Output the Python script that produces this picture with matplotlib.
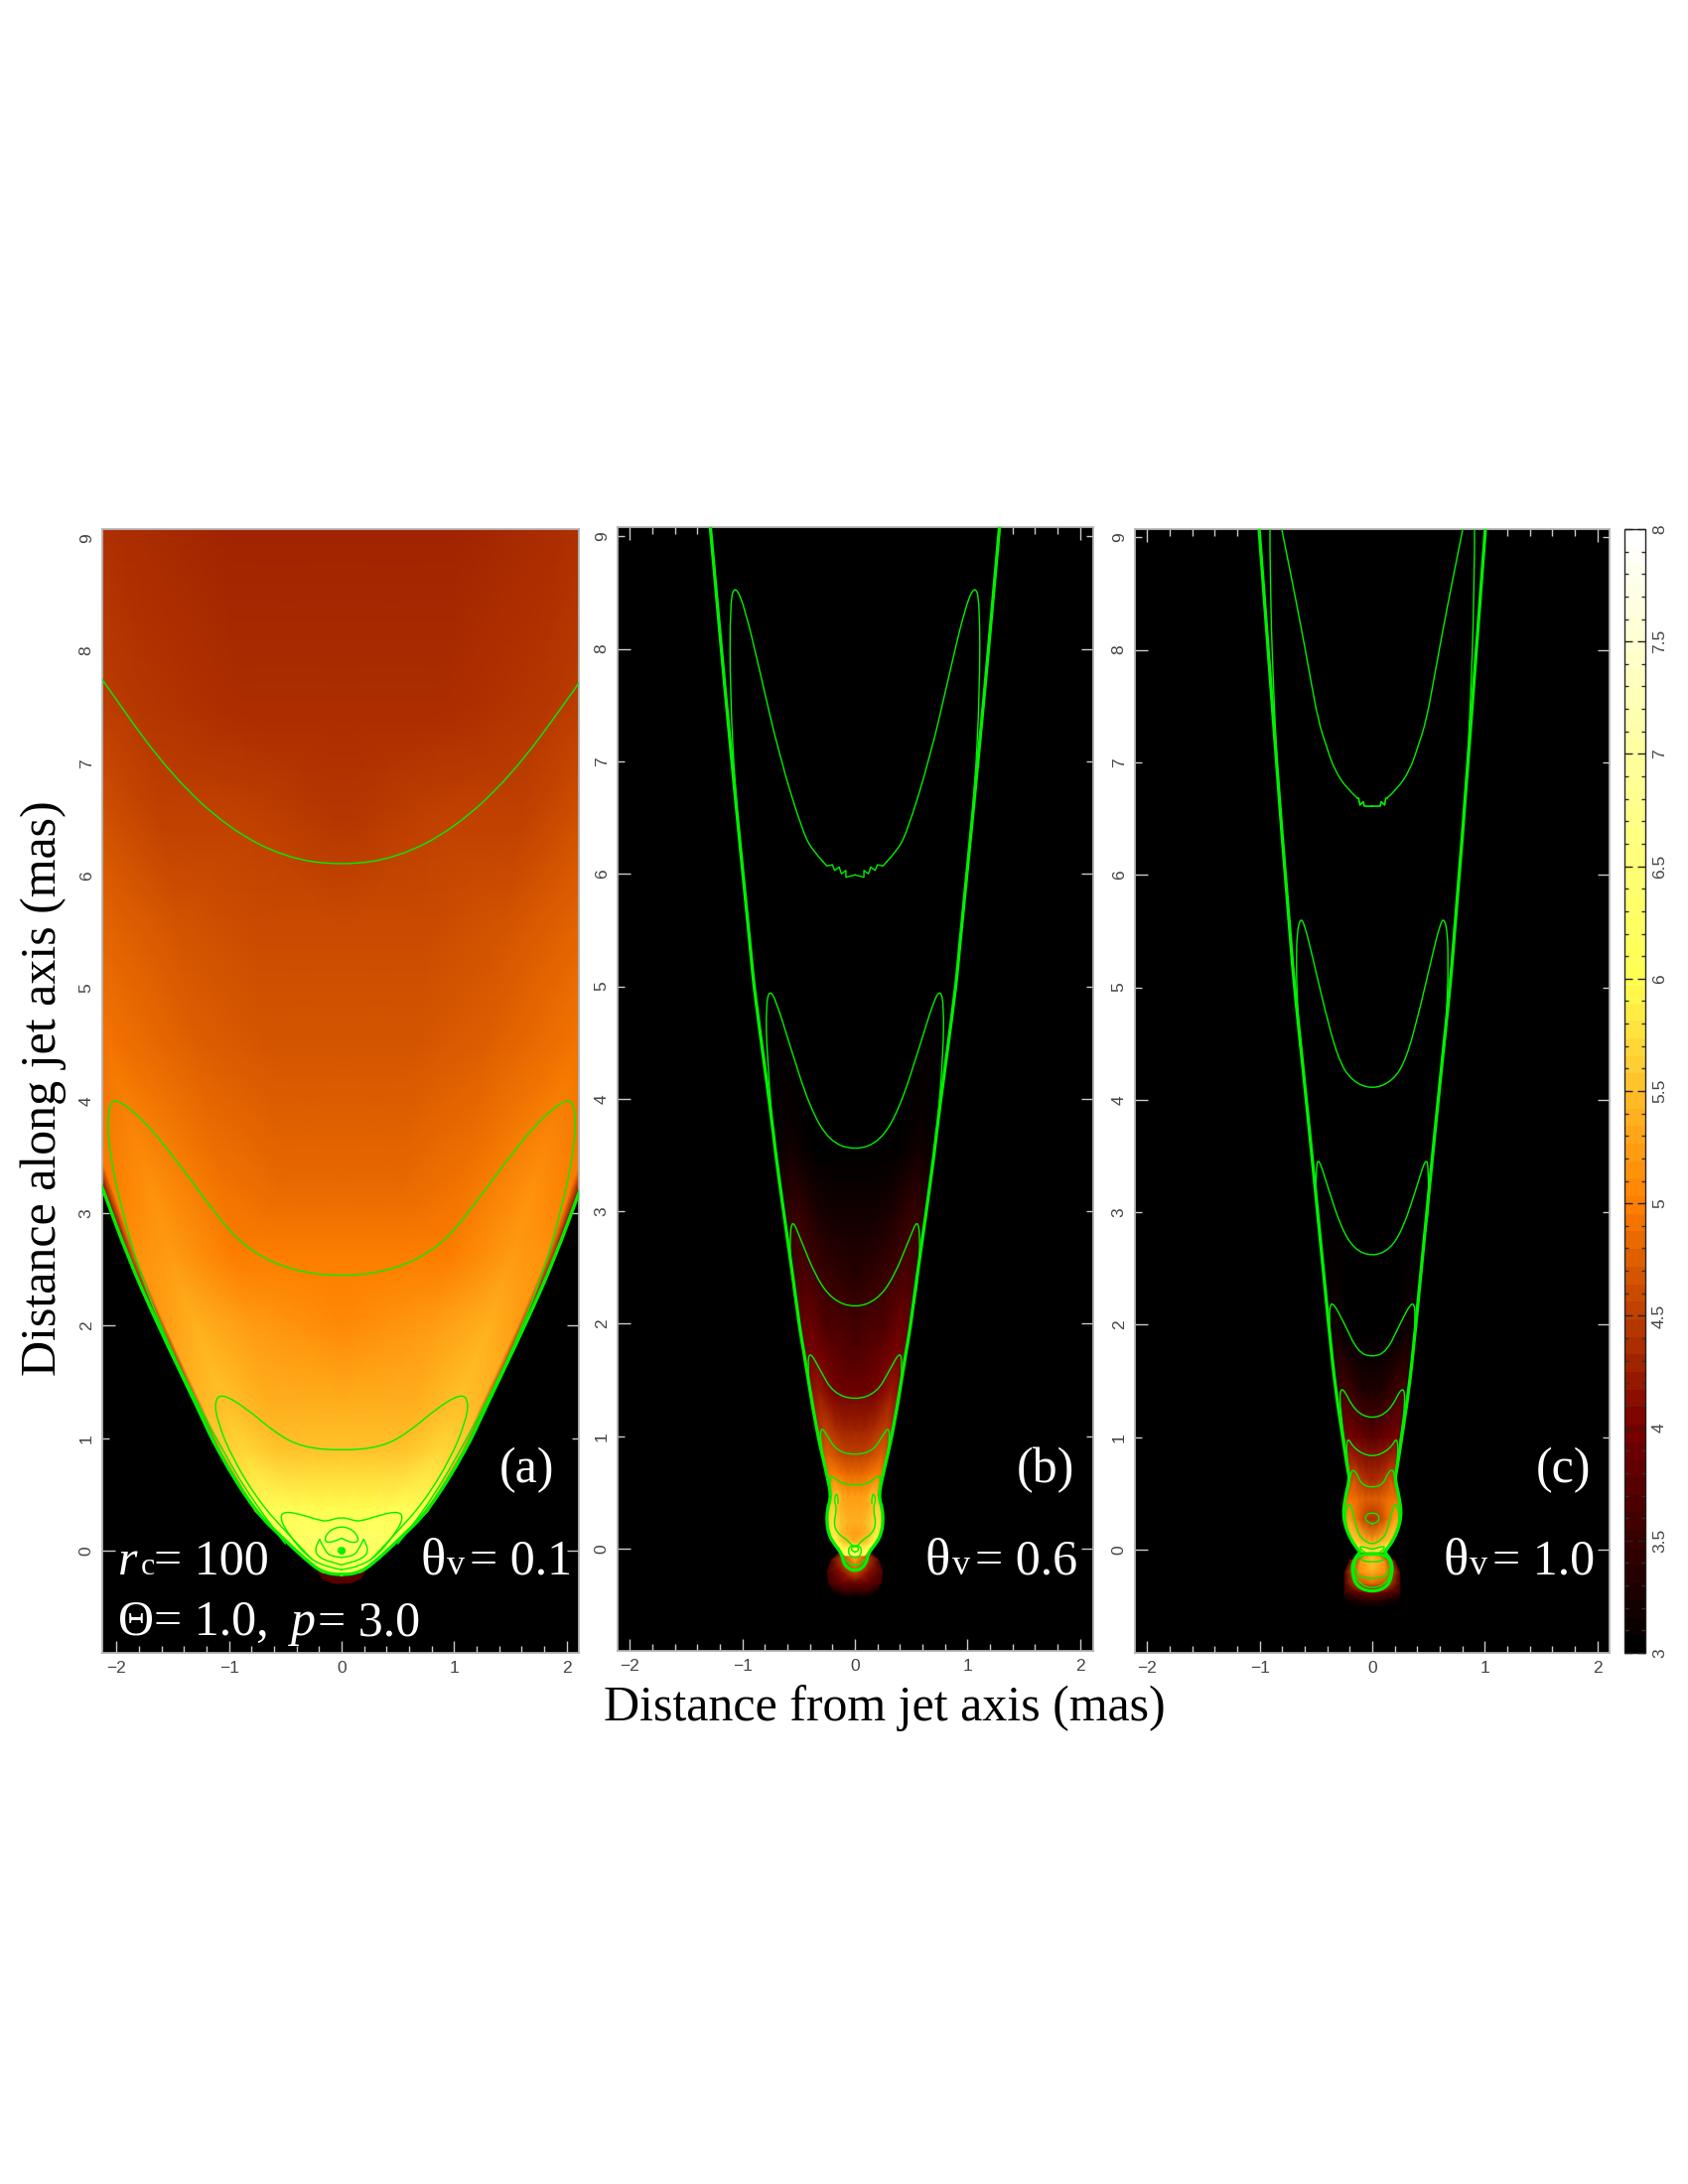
"""Three-panel jet intensity maps with contour lines and a shared colour bar."""

import numpy as np
import matplotlib
matplotlib.use("Agg")
import matplotlib.pyplot as plt
from matplotlib.cm import ScalarMappable
from matplotlib.colors import LinearSegmentedColormap, Normalize
from matplotlib.path import Path
from matplotlib.patches import PathPatch
from matplotlib.ticker import MultipleLocator, FormatStrFormatter, NullFormatter

W, H = 1700, 2200
GREEN = "#00f000"

# colour scale
CMAP_LEVELS = [3.0, 3.5, 4.0, 4.5, 5.0, 5.5, 6.0, 7.0, 8.0]
CMAP_COLORS = ["#000000", "#3c0000", "#7c0000", "#bf4000", "#ff8000",
               "#ffbf28", "#ffff50", "#ffff9c", "#ffffff"]

# ── panel (a) ────────────────────────────────────────────────────────────────
A_Y     = [-0.22, -0.19, -0.07, 0.09, 0.35, 0.88, 1.25, 2.02, 2.61, 3.21, 4.5, 5.5, 6.5, 7.5, 9.2]
A_WIDTH = [0.0, 0.18, 0.33, 0.50, 0.77, 1.10, 1.27, 1.64, 1.90, 2.12, 2.6, 2.9, 3.2, 3.55, 3.9]
A_AXIS  = [6.0, 6.1, 6.2, 6.35, 6.0, 5.5, 5.35, 5.1, 4.97, 4.85, 4.68, 4.57, 4.47, 4.38, 4.3]
A_QTR   = [6.0, 6.1, 6.2, 6.33, 6.01, 5.52, 5.37, 5.13, 4.99, 4.87, 4.7, 4.59, 4.49, 4.4, 4.32]
A_MID   = [6.0, 6.1, 6.2, 6.3, 6.05, 5.56, 5.42, 5.2, 5.03, 4.95, 4.78, 4.66, 4.55, 4.46, 4.38]
A_LIMB  = [6.0, 6.1, 6.2, 6.2, 6.05, 5.7, 5.55, 5.35, 5.25, 5.12, 4.95, 4.83, 4.72, 4.62, 4.5]

A_BLOB_Y     = [-0.29, -0.25, -0.15, -0.05]
A_BLOB_WIDTH = [0.08, 0.17, 0.235, 0.24]
A_BLOB_VALS  = [[3.75, 3.75, 3.75, 3.75], [3.75, 3.75, 3.75, 3.75], [3.7, 3.7, 3.7, 3.7]]

A_CONTOURS = [
    ([0, 0.5, 1.0, 1.5, 2.0, 2.3], [6.09, 6.16, 6.42, 6.88, 7.55, 8.0]),
    ([0, 0.49, 0.88, 1.14, 1.46, 1.76, 2.01, 2.08, 2.07, 1.96, 1.79, 1.58, 1.38, 1.1, 0.8, 0.5],
     [2.43, 2.50, 2.71, 3.02, 3.46, 3.83, 4.03, 3.93, 3.58, 3.05, 2.46, 1.93, 1.50, 0.97, 0.45, 0.06]),
    ([0, 0.35, 0.58, 0.85, 1.07, 1.13, 1.10, 0.97, 0.73, 0.47, 0.26],
     [0.888, 0.92, 1.04, 1.27, 1.40, 1.32, 1.14, 0.82, 0.43, 0.14, -0.08]),
    ([0, 0.10, 0.17, 0.35, 0.51, 0.55, 0.47, 0.30, 0.15, 0],
     [0.30, 0.27, 0.26, 0.32, 0.35, 0.29, 0.14, -0.06, -0.14, -0.17]),
    ([0, 0.11, 0.16, 0.10, 0], [0.22, 0.18, 0.09, 0.065, 0.11]),
    ([0.195, 0.245, 0.2, 0], [0.10, 0.02, -0.07, -0.127]),
    ([0.195, 0.14, 0.08, 0], [0.10, -0.02, -0.05, -0.06]),
    ([0, 0.03, 0.03, 0], [0.03, 0.02, -0.02, -0.03]),
]
A_DOT = [0.0, 0.0]
A_BOUNDARY = (A_WIDTH, A_Y)

# ── panel (b) ────────────────────────────────────────────────────────────────
B_Y     = [-0.06, 0.0, 0.06, 0.14, 0.24, 0.35, 0.47, 0.66, 0.83, 1.06, 1.41, 1.755, 1.95, 2.41, 2.93, 3.55, 3.83, 4.97, 5.25, 7.2, 9.08]
B_WIDTH = [0.09, 0.15, 0.20, 0.235, 0.25, 0.245, 0.21, 0.25, 0.29, 0.34, 0.40, 0.455, 0.49, 0.55, 0.625, 0.71, 0.74, 0.895, 0.92, 1.115, 1.285]
B_AXIS  = [6.3, 6.0, 5.4, 5.2, 5.35, 5.3, 5.2, 4.85, 4.5, 4.25, 3.9, 3.7, 3.6, 3.38, 3.17, 3.0, 2.9, 2.6, 2.5, 2.0, 1.7]
B_QTR   = [6.3, 6.0, 5.45, 5.3, 5.38, 5.32, 5.22, 4.87, 4.53, 4.28, 3.93, 3.73, 3.63, 3.41, 3.2, 3.02, 2.92, 2.64, 2.55, 2.05, 1.74]
B_MID   = [6.25, 5.9, 5.55, 5.45, 5.5, 5.4, 5.3, 4.9, 4.6, 4.33, 4.0, 3.8, 3.7, 3.48, 3.27, 3.06, 2.97, 2.72, 2.63, 2.15, 1.82]
B_LIMB  = [6.2, 6.0, 5.9, 5.85, 5.8, 5.7, 5.5, 5.0, 4.75, 4.5, 4.2, 4.0, 3.9, 3.7, 3.5, 3.2, 3.13, 3.0, 2.95, 2.5, 2.1]

B_BLOB_Y     = [-0.43, -0.38, -0.30, -0.2, -0.1, -0.02]
B_BLOB_WIDTH = [0.12, 0.19, 0.235, 0.245, 0.21, 0.12]
B_BLOB_VALS  = [[3.0, 3.4, 3.9, 4.7, 5.3, 5.5],
                [3.1, 3.5, 3.9, 4.15, 4.5, 5.0],
                [3.0, 3.2, 3.6, 3.6, 3.7, 3.8]]

B_BOUNDARY = (B_WIDTH[1:], B_Y[1:])
B_THICK = [
    ([0, 0.06, 0.106, 0.11, 0.15], [-0.198, -0.177, -0.118, -0.06, 0.0]),
]
B_CONTOURS = [
    ([0.285, 0.37, 0.46, 0.67, 0.845, 0.977, 1.065, 1.11, 1.11, 1.065, 0.99],
     [6.11, 6.2, 6.36, 7.04, 7.80, 8.36, 8.57, 8.42, 7.63, 6.74, 5.95]),
    ([0, 0.226, 0.40, 0.58, 0.70, 0.76, 0.79, 0.785, 0.74],
     [3.54, 3.62, 3.92, 4.48, 4.87, 4.97, 4.83, 4.42, 3.85]),
    ([0, 0.197, 0.344, 0.49, 0.556, 0.58, 0.565, 0.52],
     [2.14, 2.21, 2.41, 2.77, 2.93, 2.77, 2.41, 2.15]),
    ([0, 0.195, 0.31, 0.40, 0.42, 0.40, 0.37],
     [1.32, 1.386, 1.59, 1.755, 1.65, 1.36, 1.2]),
    ([0, 0.165, 0.254, 0.30, 0.31, 0.27], [0.83, 0.87, 1.02, 1.08, 0.97, 0.74]),
    ([0, 0.11, 0.17, 0.23, 0.22], [0.566, 0.575, 0.62, 0.66, 0.50]),
    ([0.15, 0.15, 0.17, 0.185, 0.16, 0.19, 0.15, 0.07, 0.03, 0],
     [0.40, 0.47, 0.49, 0.42, 0.36, 0.22, 0.13, 0.08, 0.03, 0.02]),
    ([0, 0.05, 0.06, 0.04, 0], [0.03, 0.02, -0.03, -0.07, -0.08]),
    ([0, 0.03, 0.03, 0], [0.02, 0.015, -0.02, -0.03]),
    ([0, 0.05, 0.08], [-0.15, -0.14, -0.1]),
]
B_ZIGZAG = ([0, 0.08, 0.08, 0.12, 0.14, 0.18, 0.20, 0.25, 0.285],
            [5.99, 5.97, 6.03, 6.0, 6.06, 6.03, 6.08, 6.07, 6.11])

# ── panel (c) ────────────────────────────────────────────────────────────────
C_Y     = [-0.02, 0.07, 0.27, 0.45, 0.63, 0.69, 1.0, 1.42, 1.92, 2.95, 4.43, 5.31, 9.08]
C_WIDTH = [0.11, 0.186, 0.26, 0.245, 0.20, 0.215, 0.262, 0.326, 0.38, 0.48, 0.63, 0.724, 1.006]
C_AXIS  = [5.8, 5.3, 4.4, 4.75, 4.3, 4.25, 3.75, 3.25, 2.9, 2.4, 1.95, 1.8, 1.4]
C_QTR   = [5.82, 5.35, 4.5, 4.78, 4.33, 4.28, 3.79, 3.29, 2.93, 2.41, 1.99, 1.83, 1.41]
C_MID   = [5.85, 5.45, 4.85, 4.85, 4.45, 4.4, 3.9, 3.4, 3.0, 2.45, 2.1, 1.9, 1.45]
C_LIMB  = [5.9, 5.6, 5.3, 4.95, 4.65, 4.55, 4.0, 3.55, 3.2, 2.6, 2.3, 2.0, 1.5]

C_BLOB_Y     = [-0.51, -0.45, -0.38, -0.3, -0.2, -0.1, -0.02]
C_BLOB_WIDTH = [0.2, 0.235, 0.245, 0.245, 0.245, 0.2, 0.08]
C_BLOB_VALS  = [[3.0, 3.4, 4.0, 4.8, 5.35, 5.5, 5.4],
                [3.0, 3.3, 3.8, 4.6, 5.1, 5.2, 5.0],
                [3.0, 3.1, 3.5, 3.7, 3.7, 3.8, 4.0]]

C_BOUNDARY = (C_WIDTH, C_Y)
C_THICK = [
    ([0, 0.14, 0.18, 0.17, 0.11], [-0.38, -0.33, -0.2, -0.095, -0.02]),
    ([0, 0.12, 0.165, 0.17], [-0.03, -0.05, -0.1, -0.2]),
]
C_CONTOURS = [
    ([0.13, 0.22, 0.335, 0.41, 0.48, 0.55, 0.63, 0.72, 0.806],
     [6.68, 6.76, 6.93, 7.15, 7.37, 7.75, 8.19, 8.65, 9.08]),
    ([0.91, 0.91, 0.865, 0.835, 0.80], [9.2, 8.52, 7.34, 6.81, 6.3]),
    ([0, 0.188, 0.306, 0.424, 0.54, 0.60, 0.638, 0.67, 0.674, 0.67, 0.645],
     [4.09, 4.17, 4.37, 4.81, 5.31, 5.55, 5.62, 5.48, 5.2, 4.95, 4.48]),
    ([0, 0.16, 0.277, 0.394, 0.477, 0.50, 0.50, 0.48],
     [2.606, 2.67, 2.865, 3.22, 3.49, 3.39, 3.01, 2.9]),
    ([0, 0.13, 0.247, 0.365, 0.385, 0.365, 0.335],
     [1.71, 1.76, 2.01, 2.23, 2.07, 1.77, 1.51]),
    ([0, 0.156, 0.274, 0.295, 0.245], [1.16, 1.23, 1.47, 1.31, 0.95]),
    ([0, 0.156, 0.224, 0.23, 0.20], [0.817, 0.89, 1.01, 0.83, 0.63]),
    ([0, 0.097, 0.14, 0.186, 0.20], [0.55, 0.58, 0.687, 0.717, 0.63]),
    ([0, 0.097, 0.14, 0.186, 0.215, 0.245, 0.22], [0.04, 0.097, 0.186, 0.39, 0.41, 0.30, 0.15]),
    ([0, 0.06, 0.06, 0], [0.33, 0.31, 0.25, 0.23]),
    ([0, 0.05, 0.12, 0.08, 0.03, 0], [0.0, 0.02, 0.03, -0.02, -0.04, -0.05]),
    ([0, 0.097, 0.097], [-0.11, -0.1, -0.08]),
    ([0, 0.12, 0.14, 0.14], [-0.26, -0.24, -0.2, -0.17]),
    ([0, 0.127, 0.165], [-0.35, -0.3, -0.2]),
]
C_ZIGZAG = ([0, 0.07, 0.08, 0.11, 0.12, 0.13],
            [6.61, 6.61, 6.65, 6.62, 6.68, 6.68])

# tick and colour bar labels
CBAR_TICKS = [3, 3.5, 4, 4.5, 5, 5.5, 6, 6.5, 7, 7.5, 8]

LIMB_FRACS = [0, 0.25, 0.5, 0.8, 0.96, 1.0]
BLOB_FRACS = [0, 0.5, 1.0]


def make_cmap():
    pos = [(v - CMAP_LEVELS[0]) / (CMAP_LEVELS[-1] - CMAP_LEVELS[0]) for v in CMAP_LEVELS]
    return LinearSegmentedColormap.from_list("jet_heat", list(zip(pos, CMAP_COLORS)), N=64)


def px_axes(fig, left, right, top, bottom):
    return fig.add_axes([left / W, 1 - bottom / H, (right - left) / W, (bottom - top) / H])


def draw_mesh(ax, ys, widths, columns, fracs, cmap, norm, zorder):
    """Gouraud mesh, mirrored about the jet axis, from a table of rows."""
    ys = np.array(ys)
    widths = np.array(widths)
    columns = np.array(columns, dtype=float)
    fracs = np.array(fracs)
    all_fracs = np.concatenate([-fracs[:0:-1], fracs])
    all_cols = np.vstack([columns[:0:-1], columns])
    X = np.outer(widths, all_fracs)
    Y = np.outer(ys, np.ones(len(all_fracs)))
    ax.pcolormesh(X, Y, all_cols.T, shading="gouraud", cmap=cmap, norm=norm, zorder=zorder)


def draw_jet(ax, ys, widths, axis, qtr, mid, limb, cmap, norm):
    limb = np.array(limb)
    draw_mesh(ax, ys, widths, [axis, qtr, mid, limb, limb - 0.1, limb - 1.2],
              LIMB_FRACS, cmap, norm, 2)


def smooth_path(xs, ys):
    """Quadratic spline through the midpoints of the read-off points."""
    pts = np.column_stack([xs, ys])
    verts = [pts[0]]
    codes = [Path.MOVETO]
    for i in range(1, len(pts) - 1):
        verts += [pts[i], (pts[i] + pts[i + 1]) / 2]
        codes += [Path.CURVE3, Path.CURVE3]
    verts.append(pts[-1])
    codes.append(Path.LINETO)
    return Path(verts, codes)


def draw_curve(ax, xs, ys, lw):
    """Draw a half contour and its mirror; a curve starting on the axis is joined up."""
    xs = np.array(xs, dtype=float)
    ys = np.array(ys, dtype=float)
    if xs[0] == 0:
        full_x = np.concatenate([-xs[:0:-1], xs])
        full_y = np.concatenate([ys[:0:-1], ys])
        paths = [smooth_path(full_x, full_y)]
    else:
        paths = [smooth_path(xs, ys), smooth_path(-xs, ys)]
    for path in paths:
        ax.add_patch(PathPatch(path, fill=False, ec=GREEN, lw=lw, zorder=4, capstyle="round"))


def style_panel(ax, x0, y0, left, right, top, bottom, scale=113.3):
    ax.set_xlim((left - x0) / scale, (right - x0) / scale)
    ax.set_ylim((y0 - bottom) / scale, (y0 - top) / scale)
    ax.set_facecolor("black")

    ax.xaxis.set_major_locator(MultipleLocator(1))
    ax.xaxis.set_minor_locator(MultipleLocator(0.2))
    ax.xaxis.set_minor_formatter(NullFormatter())
    ax.yaxis.set_major_locator(MultipleLocator(2))
    ax.yaxis.set_minor_locator(MultipleLocator(1))
    ax.yaxis.set_major_formatter(FormatStrFormatter("%d"))
    ax.yaxis.set_minor_formatter(FormatStrFormatter("%d"))

    tick_col = (1, 1, 1, 0.8)
    ax.tick_params(which="major", length=9, width=1.0, color=tick_col, direction="in",
                   top=True, right=True, labelsize=12.5, labelcolor="#444444", pad=6)
    ax.tick_params(which="minor", length=4.8, width=1.0, color=tick_col, direction="in",
                   top=True, right=True, labelsize=12.5, labelcolor="#444444", pad=6)
    ax.tick_params(axis="x", which="minor", labelbottom=False)
    for lab in ax.get_yticklabels(which="both"):
        lab.set_rotation(90)
        lab.set_va("center")
    for spine in ax.spines.values():
        spine.set_color("#b4b4b4")
        spine.set_linewidth(1.3)


def px_text(fig, x, y, s, size=36, style="normal"):
    fig.text(x / W, 1 - y / H, s, fontsize=size, color="white", family="Liberation Serif",
             style=style, ha="left", va="baseline", zorder=10)


def main():
    plt.rcParams["font.family"] = ["Liberation Sans", "DejaVu Sans"]
    plt.rcParams["axes.unicode_minus"] = True

    cmap = make_cmap()
    norm = Normalize(vmin=3, vmax=8, clip=True)

    fig = plt.figure(figsize=(W / 100, H / 100), dpi=100, facecolor="white")

    # panel a
    ax_a = px_axes(fig, 103, 583, 533, 1665)
    style_panel(ax_a, 344, 1562, 103, 583, 533, 1665)
    draw_mesh(ax_a, A_BLOB_Y, A_BLOB_WIDTH, A_BLOB_VALS, BLOB_FRACS, cmap, norm, 1)
    draw_jet(ax_a, A_Y, A_WIDTH, A_AXIS, A_QTR, A_MID, A_LIMB, cmap, norm)
    for xs, ys in A_CONTOURS:
        draw_curve(ax_a, xs, ys, 1.0)
    draw_curve(ax_a, *A_BOUNDARY, 2.4)
    ax_a.plot(A_DOT[0], A_DOT[1], "o", color=GREEN, ms=3.5, zorder=5)

    # panel b
    ax_b = px_axes(fig, 622, 1101, 531, 1663)
    style_panel(ax_b, 861, 1560, 622, 1101, 531, 1663)
    draw_mesh(ax_b, B_BLOB_Y, B_BLOB_WIDTH, B_BLOB_VALS, BLOB_FRACS, cmap, norm, 1)
    draw_jet(ax_b, B_Y, B_WIDTH, B_AXIS, B_QTR, B_MID, B_LIMB, cmap, norm)
    for xs, ys in B_CONTOURS:
        draw_curve(ax_b, xs, ys, 1.0)
    draw_curve(ax_b, *B_BOUNDARY, 2.4)
    for xs, ys in B_THICK:
        draw_curve(ax_b, xs, ys, 2.4)
    for sign in (1, -1):
        ax_b.plot(sign * np.array(B_ZIGZAG[0]), B_ZIGZAG[1], color=GREEN, lw=1.0, zorder=4)

    # panel c
    ax_c = px_axes(fig, 1143, 1621, 533, 1665)
    style_panel(ax_c, 1382, 1561, 1143, 1621, 533, 1665)
    draw_mesh(ax_c, C_BLOB_Y, C_BLOB_WIDTH, C_BLOB_VALS, BLOB_FRACS, cmap, norm, 1)
    draw_jet(ax_c, C_Y, C_WIDTH, C_AXIS, C_QTR, C_MID, C_LIMB, cmap, norm)
    for xs, ys in C_CONTOURS:
        draw_curve(ax_c, xs, ys, 1.0)
    draw_curve(ax_c, *C_BOUNDARY, 2.4)
    for xs, ys in C_THICK:
        draw_curve(ax_c, xs, ys, 2.4)
    for sign in (1, -1):
        ax_c.plot(sign * np.array(C_ZIGZAG[0]), C_ZIGZAG[1], color=GREEN, lw=1.2, zorder=4)

    # colour bar
    cax = px_axes(fig, 1636, 1657, 533, 1665)
    cb = fig.colorbar(ScalarMappable(norm=norm, cmap=cmap), cax=cax, ticks=CBAR_TICKS,
                      format="%g")
    cb.outline.set_edgecolor("#222222")
    cb.outline.set_linewidth(1.0)
    cax.yaxis.set_minor_locator(MultipleLocator(0.1))
    cax.tick_params(which="major", length=6, width=1.0, color="#222222", direction="in",
                    left=True, right=True, labelsize=12.5, labelcolor="#444444", pad=5)
    cax.tick_params(which="minor", length=3, width=1.0, color="#333333", direction="in",
                    left=True, right=True)
    for lab in cax.get_yticklabels():
        lab.set_rotation(90)
        lab.set_va("center")

    # panel annotations
    px_text(fig, 119, 1586, "r", style="italic")
    px_text(fig, 142, 1586, "c", size=23)
    px_text(fig, 155, 1586, "= 100")
    px_text(fig, 119, 1647, "Θ= 1.0,")
    px_text(fig, 293, 1647, "p", style="italic")
    px_text(fig, 320, 1647, "= 3.0")
    px_text(fig, 503, 1493, "(a)")
    px_text(fig, 1024, 1493, "(b)")
    px_text(fig, 1547, 1493, "(c)")
    for x_theta, value in ((423, "= 0.1"), (932, "= 0.6"), (1453, "= 1.0")):
        px_text(fig, x_theta, 1586, "θ", size=38)
        px_text(fig, x_theta + 27, 1586, "v", size=26)
        px_text(fig, x_theta + 50, 1586, value)

    fig.text(44 / W, 1 - 1096 / H, "Distance along jet axis (mas)", rotation=90,
             fontsize=36, family="Liberation Serif", ha="center", va="center", color="black")
    fig.text(891 / W, 1 - 1721 / H, "Distance from jet axis (mas)",
             fontsize=36, family="Liberation Serif", ha="center", va="center", color="black")

    fig.savefig("out.png", dpi=100, facecolor="white")


if __name__ == "__main__":
    main()
